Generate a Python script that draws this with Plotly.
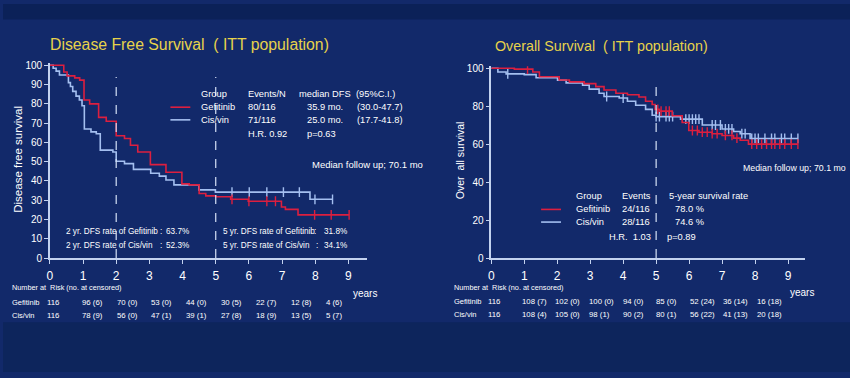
import plotly.graph_objects as go

W, H = 850, 378

# ---------------- data ----------------
# Disease free survival (step curves: time in years, survival %)
dfs_gef_t = [0, 0.42, 0.52, 0.75, 0.9, 1.03, 1.2, 1.47, 1.7, 2.0, 2.25, 2.43, 2.65, 3.03, 3.5, 3.98, 4.2,
             4.5, 4.7, 5.0, 5.45, 5.98, 6.98, 7.1, 7.48, 9.02]
dfs_gef_s = [100, 96.5, 94.5, 93.5, 92.3, 82, 80, 73, 71, 63.5, 62, 58.5, 55, 48.5, 44.5, 38.5, 38,
             33.5, 32.3, 31.8, 30.5, 29.5, 26.5, 25.3, 22.4, 22.4]
dfs_cis_t = [0, 0.1, 0.19, 0.29, 0.56, 0.62, 0.69, 0.79, 0.89, 0.97, 1.04, 1.24, 1.4, 1.52, 1.9, 2.0,
             2.25, 2.52, 3.04, 3.3, 3.5, 3.74, 4.49, 4.99, 7.84, 8.52]
dfs_cis_s = [100, 98.5, 97, 95, 91, 89, 86.5, 84, 82, 79, 67, 65.5, 64.5, 56, 55, 50.2,
             49, 46, 44, 42.5, 40.5, 38, 35.4, 34.2, 30.5, 30.5]
dfs_gef_cens = [5.49, 6.0, 6.54, 6.8, 7.98, 8.48, 9.02]
dfs_cis_cens = [5.49, 6.01, 6.54, 7.04, 7.52, 7.99, 8.52]

# Overall survival
os_gef_t = [0, 0.7, 1.26, 1.46, 2.06, 2.37, 2.82, 3.17, 3.42, 3.78, 4.13, 4.48, 4.68, 4.88, 4.97, 5.1,
            5.49, 5.79, 5.99, 6.3, 6.7, 7.0, 7.35, 7.55, 7.8, 9.3]
os_gef_s = [100, 99.5, 98, 95.5, 93.8, 92.8, 91.9, 90.3, 88.5, 86.8, 86, 84.8, 82.6, 80.9, 78.3, 77.4,
            75, 71.4, 67.2, 66.3, 65.5, 64.6, 63.2, 62.1, 60, 60]
os_cis_t = [0, 0.2, 0.45, 1.0, 1.36, 2.01, 2.27, 2.77, 2.97, 3.27, 3.42, 3.88, 4.13, 4.38, 4.68, 4.88,
            5.0, 5.74, 6.4, 7.0, 7.35, 7.55, 7.85, 9.3]
os_cis_s = [100, 98, 97, 96.6, 95, 93.7, 92.3, 91.1, 89, 86.8, 85.1, 84.3, 82.6, 80.5, 78.3, 75.2,
            74.5, 73.2, 70.1, 68, 66.7, 65.5, 63, 63]
os_gef_cens = [1.1, 5.05, 5.15, 5.3, 5.4, 6.1, 6.25, 6.4, 6.55, 6.7, 6.85, 7.1, 7.3, 7.45, 7.9, 8.05,
               8.2, 8.35, 8.5, 8.6, 8.75, 8.9, 9.1, 9.3]
os_cis_cens = [0.5, 3.5, 4.0, 5.0, 5.1, 5.3, 5.4, 5.5, 5.9, 6.0, 6.1, 6.2, 6.3, 6.7, 6.8, 6.95, 7.1,
               7.2, 7.3, 7.6, 7.7, 7.9, 8.0, 8.1, 8.3, 8.5, 8.6, 8.8, 8.9, 9.1, 9.3]

x_ticks = list(range(10))
dfs_y_ticks = list(range(0, 101, 10))
os_y_ticks = list(range(0, 101, 20))

# Number at risk (no. at censored)
dfs_risk_gef = ["116", "96 (6)", "70 (0)", "53 (0)", "44 (0)", "30 (5)", "22 (7)", "12 (8)", "4 (6)"]
dfs_risk_cis = ["116", "78 (9)", "56 (0)", "47 (1)", "39 (1)", "27 (8)", "18 (9)", "13 (5)", "5 (7)"]
os_risk_gef = ["116", "108 (7)", "102 (0)", "100 (0)", "94 (0)", "85 (0)", "52 (24)", "36 (14)", "16 (18)"]
os_risk_cis = ["116", "108 (4)", "105 (0)", "98 (1)", "90 (2)", "80 (1)", "56 (22)", "41 (13)", "20 (18)"]

groups = ["Gefitinib", "Cis/vin"]
dfs_events = ["80/116", "71/116"]
dfs_median = ["35.9 mo.", "25.0 mo."]
dfs_ci = ["(30.0-47.7)", "(17.7-41.8)"]
os_events = ["24/116", "28/116"]
os_rate5 = ["78.0 %", "74.6 %"]

# ---------------- styling ----------------
RED = "#dc1f3f"
BLUE = "#a4bff0"
BG = "#12296a"
AXIS = "#c3d2ef"
YELLOW = "#e7d24a"
WHITE = "#ffffff"
SANS = "Liberation Sans, Arial, sans-serif"


def px(x):
    return x / W


def py(y):
    return 1 - y / H


def step_at(ts, ss, t):
    v = ss[0]
    for ti, si in zip(ts, ss):
        if ti <= t:
            v = si
    return v


fig = go.Figure()

panels = [
    ("x", "y", dfs_gef_t, dfs_gef_s, dfs_cis_t, dfs_cis_s, dfs_gef_cens, dfs_cis_cens),
    ("x2", "y2", os_gef_t, os_gef_s, os_cis_t, os_cis_s, os_gef_cens, os_cis_cens),
]
for xa, ya, gt, gs, ct, cs, gc, cc in panels:
    for t, s, c, col in [(ct, cs, cc, BLUE), (gt, gs, gc, RED)]:
        fig.add_trace(go.Scatter(x=t, y=s, mode="lines", line=dict(color=col, width=1.6, shape="hv"),
                                 xaxis=xa, yaxis=ya, showlegend=False, hoverinfo="skip"))
        fig.add_trace(go.Scatter(x=c, y=[step_at(t, s, v) for v in c], mode="markers",
                                 marker=dict(symbol="line-ns", size=7, line=dict(color=col, width=1.4)),
                                 xaxis=xa, yaxis=ya, showlegend=False, hoverinfo="skip"))

axis_common = dict(showline=True, linecolor=AXIS, linewidth=1.5, ticks="outside", tickcolor=AXIS,
                   ticklen=4, tickwidth=1.3, showgrid=False, zeroline=False, fixedrange=True)
xfont = dict(family=SANS, size=12, color=WHITE)
yfont = dict(family=SANS, size=10, color=WHITE)

fig.update_layout(
    width=W, height=H, margin=dict(l=0, r=0, t=0, b=0),
    paper_bgcolor=BG, plot_bgcolor="rgba(0,0,0,0)",
    xaxis=dict(domain=[px(47), px(365)], range=[0, 9.55], tickvals=x_ticks, tickfont=xfont,
               anchor="y", ticklabelstandoff=2, **axis_common),
    yaxis=dict(domain=[py(261), py(61)], range=[0, 101], tickvals=dfs_y_ticks, tickfont=yfont,
               anchor="x", **axis_common),
    xaxis2=dict(domain=[px(490), px(805)], range=[0, 9.52], tickvals=x_ticks, tickfont=xfont,
                anchor="y2", ticklabelstandoff=2, **axis_common),
    yaxis2=dict(domain=[py(261), py(64)], range=[0, 101], tickvals=os_y_ticks, tickfont=yfont,
                anchor="x2", **axis_common),
)

shapes = [
    dict(type="rect", xref="paper", yref="paper", x0=0, x1=1, y0=py(16), y1=1,
         fillcolor="#0b2158", line=dict(width=0), layer="below"),
    dict(type="rect", xref="paper", yref="paper", x0=0, x1=1, y0=0, y1=py(327),
         fillcolor="#0d255c", line=dict(width=0), layer="below"),
]
for xr, yr, xv in [("x", "y", 2), ("x", "y", 5), ("x2", "y2", 5)]:
    shapes.append(dict(type="line", xref=xr, yref=yr, x0=xv, x1=xv, y0=0, y1=94,
                       line=dict(color="#d6e2f7", width=1.2, dash="dash")))
# legend swatches
for x0, x1, y, col in [(168, 188, 106, RED), (168, 188, 119, BLUE), (540, 560, 211, RED), (540, 560, 224, BLUE)]:
    shapes.append(dict(type="line", xref="paper", yref="paper", x0=px(x0), x1=px(x1), y0=py(y), y1=py(y),
                       line=dict(color=col, width=1.6)))
fig.update_layout(shapes=shapes)

ann = []


def text(x, y, s, size=9.3, color=WHITE, family=SANS, xanchor="left", angle=0):
    ann.append(dict(x=px(x), y=py(y), xref="paper", yref="paper", text=s, showarrow=False,
                    xanchor=xanchor, yanchor="middle", textangle=angle,
                    font=dict(family=family, size=size, color=color)))


# titles
text(45, 42, "Disease Free Survival  ( ITT population)", size=15.8, color=YELLOW)
text(492, 43, "Overall Survival  ( ITT population)", size=14.3, color=YELLOW)
text(15, 159, "Disease free survival", size=11.5, xanchor="center", angle=-90)
text(458, 160, "Over  all survival", size=10.5, xanchor="center", angle=-90)

# DFS legend block
text(197, 92, "Group")
text(244, 92, "Events/N")
text(295, 92, "median DFS")
text(352, 92, "(95%C.I.)")
for i, yy in enumerate([106, 119]):
    text(197, yy, groups[i])
    text(244, yy, dfs_events[i])
    text(303, yy, dfs_median[i])
    text(353, yy, dfs_ci[i])
text(244, 134, "H.R. 0.92")
text(303, 134, "p=0.63")
text(308, 165, "Median follow up; 70.1 mo", size=9.5)

# DFS rate notes
NS = 8.2
text(61, 234, "2 yr. DFS rate of Gefitinib", size=NS)
text(156, 234, ":", size=NS)
text(162, 234, "63.7%", size=NS)
text(61, 248, "2 yr. DFS rate of Cis/vin", size=NS)
text(156, 248, ":", size=NS)
text(162, 248, "52.3%", size=NS)
text(219, 234, "5 yr. DFS rate of Gefitinib", size=NS)
text(310, 234, ":", size=NS)
text(320, 234, "31.8%", size=NS)
text(219, 248, "5 yr. DFS rate of Cis/vin", size=NS)
text(312, 248, ":", size=NS)
text(320, 248, "34.1%", size=NS)

# OS legend block
text(573, 197, "Group")
text(619, 197, "Events")
text(666, 197, "5-year survival rate")
for i, yy in enumerate([211, 224]):
    text(573, yy, groups[i])
    text(619, yy, os_events[i])
    text(672, yy, os_rate5[i])
text(652, 239, "H.R.  1.03", xanchor="right")
text(664, 239, "p=0.89")
text(741, 168, "Median follow up; 70.1 mo", size=8.8)

# number-at-risk tables
RS = 7.8
text(7, 291, "Number at  Risk (no. at censored)", size=7.3)
text(349, 297, "years", size=10)
text(7, 307, "Gefitinib", size=7.5)
text(7, 320, "Cis/vin", size=7.5)
for i in range(9):
    text(42 + 35 * i, 307, dfs_risk_gef[i], size=RS)
    text(42 + 35 * i, 320, dfs_risk_cis[i], size=RS)

text(451, 291, "Number at  Risk (no. at censored)", size=7.3)
text(788, 296, "years", size=10)
text(451, 306, "Gefitinib", size=7.5)
text(451, 319, "Cis/vin", size=7.5)
for i in range(9):
    text(485 + 33.7 * i, 306, os_risk_gef[i], size=RS)
    text(485 + 33.7 * i, 319, os_risk_cis[i], size=RS)

fig.update_layout(annotations=ann)
fig.write_html("out.html", config={"displayModeBar": False},
               post_script="document.body.style.margin='0';document.body.style.padding='0';"
                           "document.documentElement.style.overflow='hidden';")
